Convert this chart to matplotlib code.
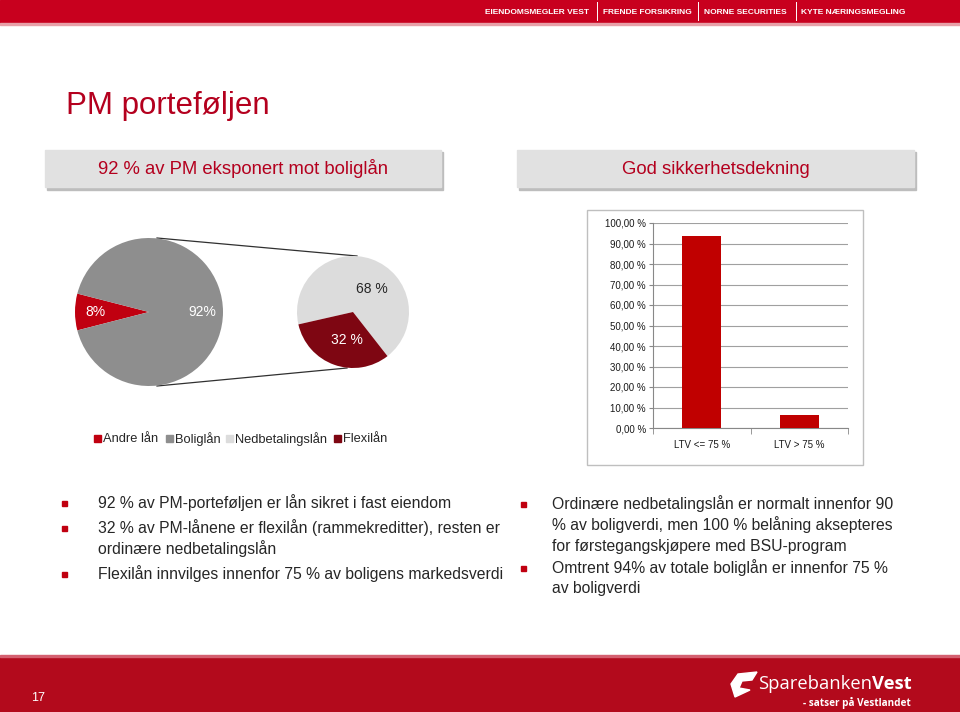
import matplotlib
matplotlib.use("Agg")
import matplotlib.pyplot as plt
import numpy as np
from matplotlib.patches import Rectangle, Polygon
from matplotlib import font_manager

plt.rcParams['font.family'] = ['Liberation Sans', 'DejaVu Sans']

# ---------------- data ----------------
big_labels = ["Andre lån", "Boliglån"]
big_values = [8, 92]
big_texts = ["8%", "92%"]
small_labels = ["Nedbetalingslån", "Flexilån"]
small_values = [68, 32]
small_texts = ["68 %", "32 %"]
legend_labels = ["Andre lån", "Boliglån", "Nedbetalingslån", "Flexilån"]

ltv_categories = ["LTV <= 75 %", "LTV > 75 %"]
ltv_values = [93.5, 6.3]
ltv_ticks = [0, 10, 20, 30, 40, 50, 60, 70, 80, 90, 100]

title = "PM porteføljen"
header_left = "92 % av PM eksponert mot boliglån"
header_right = "God sikkerhetsdekning"
bullets_left = [
    ["92 % av PM-porteføljen er lån sikret i fast eiendom"],
    ["32 % av PM-lånene er flexilån (rammekreditter), resten er", "ordinære nedbetalingslån"],
    ["Flexilån innvilges innenfor 75 % av boligens markedsverdi"],
]
bullets_right = [
    ["Ordinære nedbetalingslån er normalt innenfor 90",
     "% av boligverdi, men 100 % belåning aksepteres",
     "for førstegangskjøpere med BSU-program"],
    ["Omtrent 94% av totale boliglån er innenfor 75 %", "av boligverdi"],
]
top_links = ["EIENDOMSMEGLER VEST", "FRENDE FORSIKRING", "NORNE SECURITIES", "KYTE NÆRINGSMEGLING"]
page_no = "17"

# colours
RED_BAR = "#C8001E"
RED_TEXT = "#B4001E"
C_ANDRE = "#C00010"
C_BOLIG = "#8E8E8E"
C_NED = "#DCDCDC"
C_FLEX = "#7E0612"
TXT = "#262626"

W, H = 960, 712
fig = plt.figure(figsize=(W / 100, H / 100), dpi=100)
bg = fig.add_axes([0, 0, 1, 1])
bg.set_xlim(0, W)
bg.set_ylim(0, H)
bg.axis('off')


def Y(y):
    return H - y


names = {f.name for f in font_manager.fontManager.ttflist}
narrow = 'Liberation Sans Narrow' in names

# top banner
bg.add_patch(Rectangle((0, Y(23)), W, 23, color=RED_BAR, zorder=1))
bg.add_patch(Rectangle((0, Y(25)), W, 2, color="#E8A0A8", zorder=1))
link_l = [485, 603, 704, 801]
sep_x = [597, 698, 796]
for t, x in zip(top_links, link_l):
    if narrow:
        bg.text(x, Y(12), t, color="white", fontsize=7.6, fontweight='bold',
                ha='left', va='center', zorder=3,
                family=['Liberation Sans Narrow', 'Liberation Sans'])
    else:
        bg.text(x, Y(12), t, color="white", fontsize=6.0, fontweight='bold',
                ha='left', va='center', zorder=3)
for x in sep_x:
    bg.plot([x, x], [Y(2), Y(20)], color="white", lw=0.7, zorder=3)

# title
bg.text(66, Y(106), title, color=RED_TEXT, fontsize=22.5, ha='left', va='center')

# header boxes
for (x0, x1, t) in [(45, 441, header_left), (517, 914, header_right)]:
    bg.add_patch(Rectangle((x0 + 2, Y(190)), x1 - x0, 38, color="#BDBDBD", zorder=1))
    bg.add_patch(Rectangle((x0, Y(187)), x1 - x0, 37, color="#E1E1E1", zorder=2))
    bg.text((x0 + x1) / 2, Y(169), t, color=RED_TEXT, fontsize=13.3, ha='center',
            va='center', zorder=3)

# ---------------- pies ----------------
bcx, bcy, br = 149, Y(312), 74
scx, scy, sr = 353, Y(312), 56

# connector lines
bg.plot([157, 357], [Y(238), Y(256)], color="#303030", lw=0.9, zorder=2)
bg.plot([157, 347], [Y(386), Y(368)], color="#303030", lw=0.9, zorder=2)

big_start = 180 - big_values[0] / 100 * 360 / 2
bg.pie(big_values, colors=[C_ANDRE, C_BOLIG], startangle=big_start,
       center=(bcx, bcy), radius=br, frame=True,
       wedgeprops=dict(linewidth=0, zorder=3))
small_start = 308
bg.pie(small_values, colors=[C_NED, C_FLEX], startangle=small_start,
       center=(scx, scy), radius=sr, frame=True,
       wedgeprops=dict(linewidth=0, zorder=3))

# pie labels
angs = []
a = big_start
for v in big_values:
    angs.append(a + v / 100 * 360 / 2)
    a += v / 100 * 360
for t, ang in zip(big_texts, angs):
    r = 0.72 * br
    bg.text(bcx + r * np.cos(np.radians(ang)), bcy + r * np.sin(np.radians(ang)), t,
            color="white", fontsize=10, ha='center', va='center', zorder=5)
small_pos = [(372, Y(289)), (347, Y(340))]
for t, (x, y), c in zip(small_texts, small_pos, [TXT, "white"]):
    bg.text(x, y, t, color=c, fontsize=10, ha='center', va='center', zorder=5)

bg.set_xlim(0, W)
bg.set_ylim(0, H)
bg.set_aspect('auto')
bg.axis('off')

# legend
leg_sq = [94, 166, 226, 334]
leg_cols = [C_ANDRE, C_BOLIG, C_NED, C_FLEX]
for x, c, t in zip(leg_sq, leg_cols, legend_labels):
    bg.add_patch(Rectangle((x, Y(441.5)), 6.5, 6.5, color=c, zorder=3))
    bg.text(x + 9, Y(439), t, color=TXT, fontsize=9.3, ha='left', va='center')

# ---------------- bar chart ----------------
bg.add_patch(Rectangle((587, Y(465)), 276, 255, fill=False, edgecolor="#BFBFBF",
                       lw=1, zorder=2))
bax = fig.add_axes([653 / W, 1 - 428 / H, 195 / W, 205 / H])
xs = np.arange(len(ltv_categories))
bax.bar(xs, ltv_values, width=0.4, color="#C00000", zorder=3)
bax.set_xlim(-0.5, len(ltv_categories) - 0.5)
bax.set_ylim(0, 100)
bax.set_yticks(ltv_ticks)
bax.set_yticklabels([f"{v:.2f}".replace('.', ',') + " %" for v in ltv_ticks],
                    fontsize=7, color="#1A1A1A")
bax.set_xticks(xs)
bax.set_xticklabels(ltv_categories, fontsize=7, color="#1A1A1A")
bax.tick_params(axis='x', length=0, pad=9)
bax.tick_params(axis='y', length=3, color="#888888", pad=2)
bax.set_xticks([-0.5, 0.5, 1.5], minor=True)
bax.tick_params(axis='x', which='minor', length=4, color="#888888")
bax.grid(axis='y', color="#A0A0A0", lw=0.8, zorder=0)
for s in ['top', 'right']:
    bax.spines[s].set_visible(False)
for s in ['left', 'bottom']:
    bax.spines[s].set_color("#888888")
    bax.spines[s].set_linewidth(0.8)


# ---------------- bullets ----------------
def bullets(x_b, x_t, y0, dy, gap, groups, fs):
    y = y0
    for g in groups:
        bg.add_patch(Rectangle((x_b - 2, Y(y) - 2.5), 4.5, 4.5, color="#C00010", zorder=3))
        for line in g:
            bg.text(x_t, Y(y), line, color=TXT, fontsize=fs, ha='left', va='center')
            y += dy
        y += gap


bullets(64, 98, 503, 21, 4, bullets_left, 11.3)
bullets(523, 552, 504, 21, 1, bullets_right, 11.3)

# ---------------- bottom band ----------------
bg.add_patch(Rectangle((0, 0), W, Y(657), color="#B30A1C", zorder=1))
bg.add_patch(Rectangle((0, Y(657)), W, 2, color="#D46070", zorder=1))
bg.text(38, Y(698), page_no, color="white", fontsize=9, ha='center', va='center',
        zorder=3)
# logo icon
icon = Polygon([(735, Y(697)), (731, Y(684)), (738, Y(674)), (757, Y(672)),
                (752, Y(680)), (742, Y(681)), (739, Y(688)), (750, Y(690))],
               closed=True, color="white", zorder=3)
bg.add_patch(icon)
t1 = bg.text(758, Y(684), "Sparebanken", color="white", fontsize=13.2, ha='left',
             va='center', zorder=3, family=['Open Sans', 'DejaVu Sans'])
bg.annotate("Vest", xy=(1, 0.5), xycoords=t1, xytext=(0.3, 0), textcoords='offset points',
            color="white", fontsize=13.2, ha='left', va='center', zorder=3,
            fontweight='bold', family=['Open Sans', 'DejaVu Sans'])
bg.text(911, Y(703), "- satser på Vestlandet", color="white", fontsize=7.2,
        ha='right', va='center', zorder=3, fontweight='bold',
        family=['Open Sans', 'DejaVu Sans'])

fig.savefig("out.png", dpi=100)
